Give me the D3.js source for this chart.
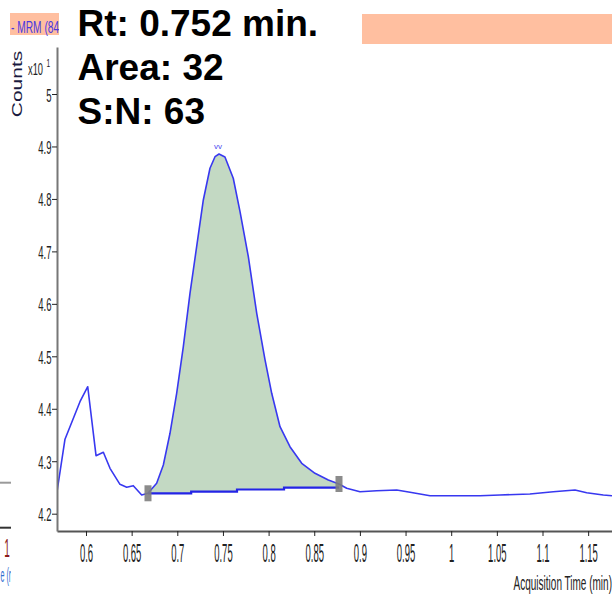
<!DOCTYPE html>
<html><head><meta charset="utf-8">
<script src="https://cdn.jsdelivr.net/npm/d3@7"></script>
<style>
html,body{margin:0;padding:0;background:#fff;}
svg{display:block;}
text{font-family:"Liberation Sans",Arial,sans-serif;}
</style></head>
<body>
<svg id="c" width="612" height="596"></svg>
<script>
// ---- data (acquisition time in min, counts in x10^1) ----
const time = [0.568,0.577,0.5934,0.6019,0.611,0.619,0.6263,0.6372,0.6446,0.6518,0.661,0.6679,
  0.6774,0.6847,0.692,0.6993,0.7066,0.7139,0.7212,0.7285,0.7358,0.7413,0.7457,0.7522,0.7613,
  0.7687,0.7778,0.787,0.7961,0.8034,0.8125,0.8234,0.8363,0.8508,0.8654,0.8771,0.8855,0.9001,
  0.9184,0.9403,0.9549,0.9768,0.9987,1.0315,1.0534,1.0862,1.1118,1.1356,1.1484,1.1666,1.1761];
const counts = [4.239,4.342,4.4135,4.442,4.3106,4.317,4.2865,4.256,4.2503,4.2534,4.2356,4.2389,
  4.258,4.2928,4.3533,4.4295,4.5183,4.6201,4.709,4.798,4.8584,4.8805,4.8857,4.880,4.8394,
  4.7757,4.6899,4.582,4.493,4.4295,4.3658,4.3277,4.2961,4.277,4.2642,4.2566,4.2484,4.2419,
  4.2438,4.2452,4.2408,4.2343,4.2343,4.2343,4.2356,4.2376,4.2419,4.2452,4.24,4.2356,4.2343];
const peakStart = 0.6679, peakEnd = 0.8771;
const baseTimes = [0.6679,0.7152,0.7654,0.8169,0.8771];
const baseLevels = [4.2389,4.2419,4.2461,4.2496];
const markerTimes = [0.6679,0.8771];
const markerLevels = [4.2389,4.2566];
const xTicks = [0.6,0.65,0.7,0.75,0.8,0.85,0.9,0.95,1,1.05,1.1,1.15];
const yTicks = [4.2,4.3,4.4,4.5,4.6,4.7,4.8,4.9,5];
const infoLines = ["Rt: 0.752 min.","Area: 32","S:N: 63"];
const traceLabel = "- MRM (84";
const xTitle = "Acquisition Time (min)";
const yTitle = "Counts";

const svg = d3.select("#c");
const L=57, R=612, T=47, B=531;
const x = d3.scaleLinear().domain([0.56824,1.17612]).range([L,R]);
const y = d3.scaleLinear().domain([4.167,5.0896]).range([B,T]);

// clip for plot
svg.append("defs").append("clipPath").attr("id","plot")
  .append("rect").attr("x",L).attr("y",T-10).attr("width",R-L).attr("height",B-T+10);
svg.select("defs").append("clipPath").attr("id","lab")
  .append("rect").attr("x",0).attr("y",0).attr("width",59).attr("height",40);
svg.select("defs").append("clipPath").attr("id","edge")
  .append("rect").attr("x",0).attr("y",0).attr("width",11).attr("height",596);

// neighbour-panel remnants at the left edge
const edge = svg.append("g").attr("clip-path","url(#edge)");
edge.append("line").attr("x1",0).attr("x2",11).attr("y1",482.7).attr("y2",482.7).attr("stroke","#9a9a9a").attr("stroke-width",2);
edge.append("line").attr("x1",0).attr("x2",11).attr("y1",527.7).attr("y2",527.7).attr("stroke","#333").attr("stroke-width",2);
edge.append("text").attr("transform","translate(7,557) scale(0.4,1)").attr("text-anchor","middle")
  .attr("font-size",25).attr("fill","#8b1a1a").text("1");
edge.append("text").attr("transform","translate(0.5,582) scale(0.34,1)").attr("text-anchor","start")
  .attr("font-size",21).attr("fill","#2f6fd0").text("e (r");

// header boxes
svg.append("rect").attr("x",362).attr("y",14).attr("width",250).attr("height",30).attr("fill","#ffbfa0");
const lab = svg.append("g").attr("clip-path","url(#lab)");
lab.append("rect").attr("x",10).attr("y",13).attr("width",49).attr("height",22).attr("fill","#ffbfa0");
lab.append("text").attr("transform","translate(11,33) scale(0.6,1)")
  .attr("font-size",17).attr("fill","#4a38e0").text(traceLabel);

// fill between peak and baseline
const inPeak = time.map((t,i)=>[t,counts[i]]).filter(d=>d[0]>=peakStart-1e-9 && d[0]<=peakEnd+1e-9);
const basePts = [];
for(let i=0;i<baseLevels.length;i++){
  basePts.push([baseTimes[i],baseLevels[i]]);
  basePts.push([baseTimes[i+1],baseLevels[i]]);
}
const poly = inPeak.concat(basePts.slice().reverse());
const plot = svg.append("g").attr("clip-path","url(#plot)");
plot.append("path").attr("d", d3.line().x(d=>x(d[0])).y(d=>y(d[1]))(poly)+"Z")
  .attr("fill","#c3d9c3").attr("stroke","none");
// baseline
plot.append("path").attr("d", d3.line().x(d=>x(d[0])).y(d=>y(d[1]))(basePts))
  .attr("fill","none").attr("stroke","#2424e6").attr("stroke-width",2.2);
// trace
plot.append("path").attr("d", d3.line().x((d,i)=>x(time[i])).y((d,i)=>y(counts[i]))(time))
  .attr("fill","none").attr("stroke","#3838f0").attr("stroke-width",1.6).attr("stroke-linejoin","round");
// markers
markerTimes.forEach((t,i)=>{
  plot.append("rect").attr("x",x(t)-3.5).attr("y",y(markerLevels[i])-8).attr("width",7).attr("height",16)
    .attr("fill","#7e7e7e").attr("opacity",0.9);
});
// peak apex mark
const apexI = counts.indexOf(d3.max(counts));
svg.append("text").attr("x",x(time[apexI])-1).attr("y",y(counts[apexI])-5).attr("text-anchor","middle")
  .attr("font-size",8).attr("fill","#4a4af0").text("vv");

// axes
const xAxis = svg.append("g").attr("transform",`translate(0,${B})`)
  .call(d3.axisBottom(x).tickValues(xTicks).tickSize(5).tickSizeOuter(0).tickFormat(d=>String(+d.toFixed(2))));
xAxis.select(".domain").attr("stroke","#555").attr("stroke-width",2);
xAxis.selectAll(".tick line").attr("stroke","#222");
xAxis.selectAll(".tick text").attr("y",null).attr("dy",null)
  .attr("transform","translate(0,31) scale(0.38,1)").attr("font-size",25).attr("fill","#222")
  .attr("font-family","Liberation Sans, Arial, sans-serif");

const yAxis = svg.append("g").attr("transform",`translate(${L},0)`)
  .call(d3.axisLeft(y).tickValues(yTicks).tickSize(5).tickSizeOuter(0).tickFormat(d=>String(+d.toFixed(1))));
yAxis.select(".domain").attr("stroke","#777").attr("stroke-width",2);
yAxis.selectAll(".tick line").attr("stroke","#222");
yAxis.selectAll(".tick text").attr("x",null).attr("dy",null)
  .attr("transform","translate(-5.5,7) scale(0.5,1)").attr("font-size",19).attr("fill","#222")
  .attr("text-anchor","end").attr("font-family","Liberation Sans, Arial, sans-serif");

// axis titles
svg.append("text").attr("transform","translate(612,590) scale(0.477,1)").attr("text-anchor","end")
  .attr("font-size",21).attr("fill","#222").text(xTitle);
svg.append("text").attr("transform","translate(22,84) rotate(-90) scale(1.5,1)").attr("text-anchor","middle")
  .attr("font-size",14).attr("fill","#1a1a40").text(yTitle);
svg.append("text").attr("transform","translate(28,75) scale(0.58,1)").attr("font-size",16).attr("fill","#222").text("x10");
svg.append("text").attr("transform","translate(46.5,67) scale(0.6,1)").attr("font-size",11).attr("fill","#222").text("1");

// info text
infoLines.forEach((s,i)=>{
  svg.append("text").attr("x",77.5).attr("y",[35.5,80,123.5][i]).attr("font-size",37).attr("font-weight","bold")
    .attr("fill","#000").text(s);
});
</script>
</body></html>
